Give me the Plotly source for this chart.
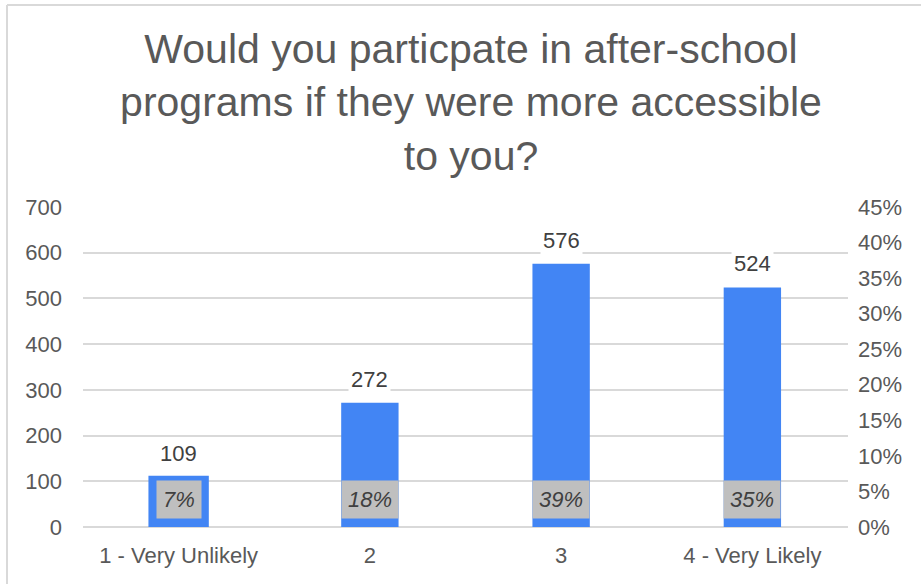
import plotly.graph_objects as go

# Survey responses
categories = ["1 - Very Unlikely", "2", "3", "4 - Very Likely"]
counts = [109, 272, 576, 524]
shares = [0.07, 0.18, 0.39, 0.35]

left_ticks = [0, 100, 200, 300, 400, 500, 600, 700]
right_ticks = [0, 0.05, 0.10, 0.15, 0.20, 0.25, 0.30, 0.35, 0.40, 0.45]

W, H = 921, 584
ML, MR, MT, MB = 83, 73, 207, 57
FONT = "Arial, Liberation Sans, sans-serif"
BLUE = "#4285F4"
GRID = "#d9d9d9"

fig = go.Figure()

fig.add_trace(go.Bar(
    x=categories, y=counts,
    marker=dict(color=BLUE, line=dict(color=BLUE, width=[3, 0, 0, 0])),
    width=0.3,
    hoverinfo="skip",
))

# share series on the secondary axis (labels only)
fig.add_trace(go.Scatter(
    x=categories, y=shares, yaxis="y2",
    mode="markers", marker=dict(opacity=0),
    hoverinfo="skip",
))

annotations = []
for i, (v, s) in enumerate(zip(counts, shares)):
    annotations.append(dict(
        x=i, y=v, xref="x", yref="y", text=str(v), showarrow=False,
        yanchor="bottom", yshift=8, bgcolor="white", borderpad=2,
        font=dict(family=FONT, size=22, color="#404040"),
    ))
    annotations.append(dict(
        x=i, y=0, xref="x", yref="y", text=f"<i>{round(s * 100)}%</i>",
        showarrow=False, yanchor="bottom", yshift=8,
        bgcolor="#bfbfbf", borderpad=6,
        font=dict(family=FONT, size=22, color="#404040"),
    ))

pw = W - ML - MR
ph = H - MT - MB
shapes = [
    # outer chart border (left and top edges)
    dict(type="line", xref="paper", yref="paper",
         x0=(7 - ML) / pw, x1=(W + 20 - ML) / pw,
         y0=(H - 5 - MB) / ph, y1=(H - 5 - MB) / ph,
         line=dict(color=GRID, width=2)),
    dict(type="line", xref="paper", yref="paper",
         x0=(7 - ML) / pw, x1=(7 - ML) / pw,
         y0=(H - 5 - MB) / ph, y1=-(40 + MB) / ph,
         line=dict(color=GRID, width=2)),
]

fig.update_layout(
    width=W, height=H,
    margin=dict(l=ML, r=MR, t=MT, b=MB),
    paper_bgcolor="white", plot_bgcolor="white",
    showlegend=False,
    title=dict(
        text="Would you particpate in after-school<br>programs if they were more accessible<br>to you?",
        x=471 / W, xanchor="center", y=1 - 63 / H, yanchor="middle",
        font=dict(family=FONT, size=41, color="#595959"),
    ),
    xaxis=dict(
        type="category",
        showgrid=False, showline=False, ticks="",
        tickfont=dict(family=FONT, size=22, color="#595959"),
        ticklabelstandoff=13,
    ),
    yaxis=dict(
        range=[0, 700], tickvals=left_ticks,
        showgrid=True, gridcolor=GRID, gridwidth=2,
        zeroline=True, zerolinecolor=GRID, zerolinewidth=2,
        showline=False, ticks="",
        tickfont=dict(family=FONT, size=22, color="#595959"),
        ticklabelstandoff=20,
    ),
    yaxis2=dict(
        overlaying="y", side="right", range=[0, 0.45],
        tickvals=right_ticks, tickformat=".0%",
        showgrid=False, zeroline=False, showline=False, ticks="",
        tickfont=dict(family=FONT, size=22, color="#595959"),
        ticklabelstandoff=9,
    ),
    annotations=annotations,
    shapes=shapes,
)

fig.write_html("out.html")
